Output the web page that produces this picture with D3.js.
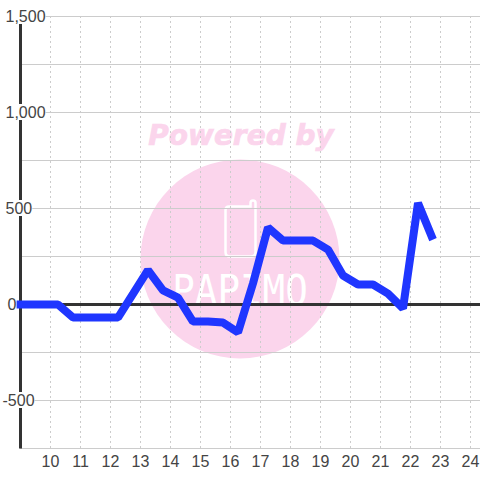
<html>

<head>
  <meta charset="UTF-8">
  <title>Chart</title>
  <style>
    html, body { margin: 0; padding: 0; background: #fff; }
    svg { display: block; }
    text { font-family: "Liberation Sans", sans-serif; }
  </style>
</head>

<body>
  <svg id="chart" width="480" height="480"></svg>
  <script src="https://cdn.jsdelivr.net/npm/d3@7"></script>
  <script>
  //-----------------------------------------
  // data
  const hours = [8.75, 9.25, 9.75, 10.25, 10.75, 11.25, 11.75, 12.25, 12.75, 13.25, 13.75, 14.25, 14.75, 15.25, 15.75,
    16.25, 16.75, 17.25, 17.75, 18.25, 18.75, 19.25, 19.75, 20.25, 20.75, 21.25, 21.75, 22.25, 22.75]
  const values = [0, 0, 0, 0, -68, -68, -68, -68, 55, 179, 73, 36, -89, -89, -94,
    -145, 110, 401, 333, 333, 333, 286, 151, 104, 104, 57, -20, 528, 338]
  const xTicks = [10, 11, 12, 13, 14, 15, 16, 17, 18, 19, 20, 21, 22, 23, 24]
  const yGrid = [1500, 1250, 1000, 750, 500, 250, -250, -500, -750]
  const yLabels = [1500, 1000, 500, 0, -500]

  const svg = d3.select("#chart")
  const x = d3.scaleLinear().domain([9, 24]).range([20.5, 470.5])
  const y = d3.scaleLinear().domain([1500, -750]).range([16.5, 448.5])

  // watermark goes under the grid
  const mark = svg.append("g")
  mark.append("circle")
    .attr("cx", 240).attr("cy", 259).attr("r", 99.5)
    .attr("fill", "#fbd5ec")
  mark.append("text")
    .attr("x", 241).attr("y", 145)
    .attr("text-anchor", "middle")
    .style("font-family", "DejaVu Sans")
    .style("font-weight", "bold")
    .style("font-style", "italic")
    .style("font-size", "28px")
    .attr("fill", "#fbd5ec")
    .attr("stroke", "#fbd5ec")
    .attr("stroke-width", 0.7)
    .text("Powered by")
  mark.append("path")
    .attr("d", "M229 206.5 H250.5 V203 Q250.5 200.5 253 200.5 Q255.5 200.5 255.5 203 V252 Q255.5 256.5 251 256.5 H230 Q225.5 256.5 225.5 252 V210 Q225.5 206.5 229 206.5 Z")
    .attr("fill", "none")
    .attr("stroke", "#fff")
    .attr("stroke-width", 2.5)
  mark.append("text")
    .attr("transform", "translate(240,305) scale(1,1.15)")
    .attr("text-anchor", "middle")
    .style("font-family", "DejaVu Sans Mono")
    .style("font-size", "37.5px")
    .attr("fill", "#fff")
    .text("PAPIMO")

  // grid
  svg.append("g").selectAll("line").data(yGrid).enter().append("line")
    .attr("x1", 20).attr("x2", 480)
    .attr("y1", function (d) { return y(d) })
    .attr("y2", function (d) { return y(d) })
    .attr("stroke", "#ccc").attr("stroke-width", 1)
  svg.append("g").selectAll("line").data(xTicks).enter().append("line")
    .attr("x1", function (d) { return x(d) })
    .attr("x2", function (d) { return x(d) })
    .attr("y1", 16).attr("y2", 448)
    .attr("stroke", "#ccc").attr("stroke-width", 1)
    .attr("stroke-dasharray", "2,3")

  // axes
  svg.append("line")
    .attr("x1", x(9)).attr("x2", x(9))
    .attr("y1", y(1500)).attr("y2", y(-750))
    .attr("stroke", "#333").attr("stroke-width", 3)
  svg.append("line")
    .attr("x1", 20).attr("x2", 480)
    .attr("y1", y(0)).attr("y2", y(0))
    .attr("stroke", "#333").attr("stroke-width", 3)

  // series
  const line = d3.line()
    .x(function (d, i) { return x(hours[i]) })
    .y(function (d) { return y(d) })
  svg.append("path")
    .attr("d", line(values))
    .attr("fill", "none")
    .attr("stroke", "#1f36ff")
    .attr("stroke-width", 8)
    .attr("stroke-linejoin", "bevel")

  // x labels
  svg.append("g").selectAll("text").data(xTicks).enter().append("text")
    .attr("x", function (d) { return x(d) })
    .attr("y", 467)
    .attr("text-anchor", "middle")
    .style("font-size", "16px")
    .attr("fill", "#444")
    .text(function (d) { return d })

  // y labels sit on a white box that hides axis, grid and line
  const fmt = d3.format(",")
  const labels = svg.append("g").selectAll("g").data(yLabels).enter().append("g")
  const texts = labels.append("text")
    .attr("x", function (d) { return d < 0 ? 2.5 : d === 0 ? 7.6 : 5.5 })
    .attr("y", function (d) { return y(d) + 5.5 })
    .style("font-size", "16px")
    .attr("fill", "#444")
    .text(function (d) { return fmt(d).replace("−", "-") })
  texts.each(function (d) {
    const b = this.getBBox()
    d3.select(this.parentNode).insert("rect", "text")
      .attr("x", b.x).attr("y", y(d) - 8.5)
      .attr("width", b.width).attr("height", 16)
      .attr("fill", "#fff")
  })
  </script>
</body>

</html>
